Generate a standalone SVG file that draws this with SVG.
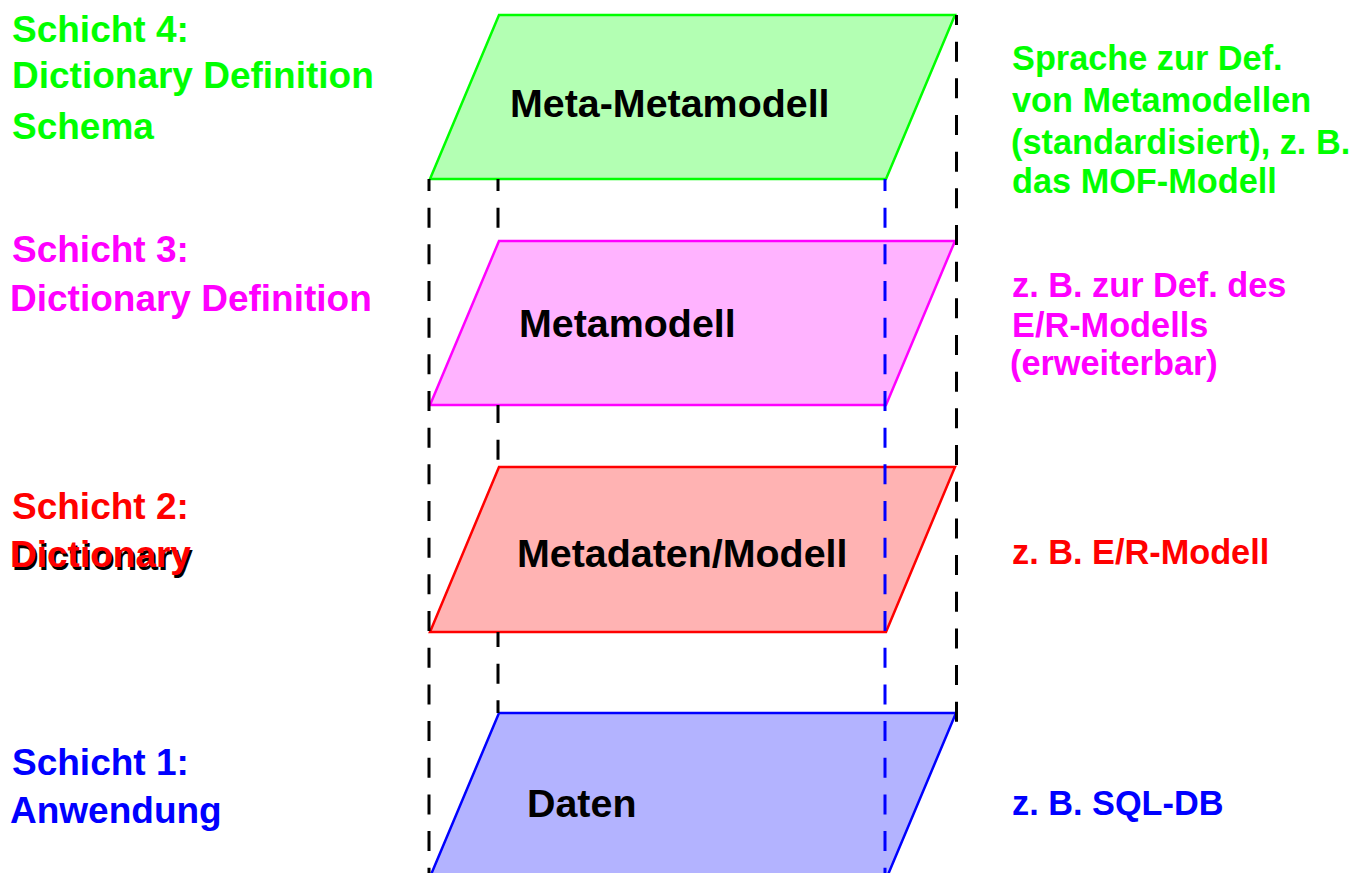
<svg xmlns="http://www.w3.org/2000/svg" width="1366" height="873" viewBox="0 0 1366 873">
<style>
text{font-family:"Liberation Sans",Arial,sans-serif;font-weight:bold}
.lbl{font-size:37px}
.rt{font-size:34.3px}
.ct{font-size:39.4px;fill:#000}
.g{fill:#00ff00}.m{fill:#ff00ff}.r{fill:#ff0000}.b{fill:#0000ff}
.layer{stroke-width:2.5;stroke-linejoin:miter}
.dk{stroke:#000;stroke-width:3;stroke-dasharray:20 16.67;fill:none}
.db{stroke:#0000ff;stroke-width:3;stroke-dasharray:20 16.67;fill:none}
</style>
<rect width="1366" height="873" fill="#fff"/>
<g id="layer4">
<polygon class="layer" points="499,15 955,15 886,179 430,179" fill="#b3ffb3" stroke="#00ff00"/>
<text class="ct" x="510" y="117">Meta-Metamodell</text>
</g>
<g id="layer3">
<polygon class="layer" points="499,241 955,241 886,405 430,405" fill="#ffb3ff" stroke="#ff00ff"/>
<text class="ct" x="519" y="337">Metamodell</text>
</g>
<g id="layer2">
<polygon class="layer" points="499,467 955,467 886,632 430,632" fill="#ffb3b3" stroke="#ff0000"/>
<text class="ct" x="517" y="567">Metadaten/Modell</text>
</g>
<g id="layer1">
<polygon class="layer" points="499,713 956,713 887,877 430,877" fill="#b3b3ff" stroke="#0000ff"/>
<text class="ct" x="527" y="817">Daten</text>
</g>
<g id="connectors">
<line class="dk" x1="429" y1="179" x2="429" y2="873" stroke-dashoffset="8"/>
<line class="dk" x1="498" y1="179" x2="498" y2="241" stroke-dashoffset="8"/>
<line class="dk" x1="498" y1="405" x2="498" y2="467" stroke-dashoffset="2"/>
<line class="dk" x1="498" y1="632" x2="498" y2="713" stroke-dashoffset="5"/>
<line class="dk" x1="956.5" y1="15" x2="956.5" y2="726" stroke-dashoffset="10"/>
<line class="db" x1="885" y1="179" x2="885" y2="873" stroke-dashoffset="8"/>
</g>
<g id="labels-left">
<text class="lbl g" x="12" y="42">Schicht 4:</text>
<text class="lbl g" x="12" y="88">Dictionary Definition</text>
<text class="lbl g" x="12" y="139">Schema</text>
<text class="lbl m" x="12" y="262">Schicht 3:</text>
<text class="lbl m" x="10" y="311">Dictionary Definition</text>
<text class="lbl r" x="12" y="519">Schicht 2:</text>
<text class="lbl" x="12" y="570" fill="#000">Dictionary</text>
<text class="lbl r" x="10" y="567">Dictionary</text>
<text class="lbl b" x="12" y="775">Schicht 1:</text>
<text class="lbl b" x="10" y="823">Anwendung</text>
</g>
<g id="labels-right">
<text class="rt g" x="1012" y="70">Sprache zur Def.</text>
<text class="rt g" x="1012" y="112">von Metamodellen</text>
<text class="rt g" x="1011" y="154">(standardisiert), z. B.</text>
<text class="rt g" x="1012" y="193">das MOF-Modell</text>
<text class="rt m" x="1012" y="297">z. B. zur Def. des</text>
<text class="rt m" x="1012" y="337">E/R-Modells</text>
<text class="rt m" x="1010" y="375">(erweiterbar)</text>
<text class="rt r" x="1012" y="564">z. B. E/R-Modell</text>
<text class="rt b" x="1012" y="815">z. B. SQL-DB</text>
</g>
</svg>
